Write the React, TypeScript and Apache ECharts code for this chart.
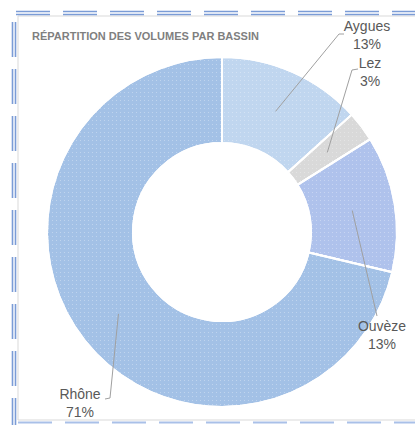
import React, { useEffect, useRef } from "react";
import * as echarts from "echarts";

// ---- data ----
const categories = ["Aygues", "Lez", "Ouvèze", "Rhône"];
const volumes = [13.3, 2.8, 12.6, 71.3];
const sliceColors = ["#c0d6ef", "#d9d9d9", "#afc2ec", "#a3c1e6"];
const titleText = "RÉPARTITION DES VOLUMES PAR BASSIN";

// ---- layout (positions of labels & frame only) ----
const CENTER = [222, 232];
const RADII = [89, 175];
const labelAnchors = [
  [367, 35],
  [370, 72],
  [382, 335],
  [80, 403],
];
const labelLineEnds = [
  [[339, 34], [344, 34]],
  [[352, 70], [358, 69]],
  [[377, 316]],
  [[110, 398], [105, 399]],
];

export default function App() {
  const ref = useRef<HTMLDivElement>(null);
  useEffect(() => {
    if (!ref.current) return;
    const chart = echarts.init(ref.current, null, { renderer: "svg" });
    const total = volumes.reduce((a, b) => a + b, 0);
    const mids: number[] = [];
    let cum = 0;
    volumes.forEach((v) => {
      mids.push(((cum + v / 2) / total) * Math.PI * 2);
      cum += v;
    });
    const rMid = (RADII[0] + RADII[1]) / 2;
    const midPoint = (i: number) => [
      CENTER[0] + Math.sin(mids[i]) * rMid,
      CENTER[1] - Math.cos(mids[i]) * rMid,
    ];

    const frameColor = "#7b9cd6";
    const graphics: any[] = [
      {
        type: "rect",
        shape: { x: 18, y: 16, width: 420, height: 404 },
        style: { fill: "none", stroke: "#d9d9d9", lineWidth: 1 },
        silent: true,
      },
    ];
    const dash = [34, 13];
    [11.5, 14.5].forEach((y) =>
      graphics.push({
        type: "line",
        shape: { x1: 16, y1: y, x2: 415, y2: y },
        style: { stroke: frameColor, lineWidth: 1.6, lineDash: dash },
        silent: true,
      })
    );
    [12.5, 15.5].forEach((x) =>
      graphics.push({
        type: "line",
        shape: { x1: x, y1: 22, x2: x, y2: 425 },
        style: { stroke: frameColor, lineWidth: 1.6, lineDash: [35, 12] },
        silent: true,
      })
    );
    graphics.push({
      type: "line",
      shape: { x1: 18, y1: 422.5, x2: 415, y2: 422.5 },
      style: { stroke: "#a9c0e8", lineWidth: 2, lineDash: dash },
      silent: true,
    });
    graphics.push({
      type: "text",
      left: 32,
      top: 30,
      style: {
        text: titleText,
        fill: "#7f7f7f",
        font: "bold 11px 'Liberation Sans', Arial, sans-serif",
      },
    });
    // leader lines from the middle of each slice to its label
    categories.forEach((_, i) => {
      graphics.push({
        type: "polyline",
        z: 100,
        silent: true,
        shape: { points: [midPoint(i), ...labelLineEnds[i]] },
        style: { stroke: "#a0a0a0", lineWidth: 1, fill: "none" },
      });
    });

    chart.setOption({
      animation: false,
      backgroundColor: "#ffffff",
      graphic: graphics,
      series: [
        {
          type: "pie",
          center: CENTER,
          radius: RADII,
          startAngle: 90,
          clockwise: true,
          avoidLabelOverlap: false,
          data: categories.map((c, i) => ({
            name: c,
            value: volumes[i],
            itemStyle: { color: sliceColors[i] },
          })),
          itemStyle: {
            borderColor: "#ffffff",
            borderWidth: 2,
            decal: {
              symbol: "rect",
              symbolSize: 1,
              dashArrayX: [1, 3],
              dashArrayY: [1, 3],
              color: "rgba(255,255,255,0.3)",
            },
          },
          label: {
            show: true,
            position: "outside",
            formatter: (p: any) => `${p.name}\n${Math.round(p.percent)}%`,
            color: "#595959",
            fontFamily: "'Liberation Sans', Arial, sans-serif",
            fontSize: 14,
            lineHeight: 18,
            align: "center",
          },
          labelLine: { show: false },
          labelLayout: (params: any) => {
            const i = params.dataIndex;
            return {
              x: labelAnchors[i][0],
              y: labelAnchors[i][1],
              align: "center",
              verticalAlign: "middle",
            };
          },
          emphasis: { disabled: true },
        },
      ],
    });
    return () => chart.dispose();
  }, []);
  return (
    <div
      ref={ref}
      style={{ position: "fixed", left: 0, top: 0, width: 415, height: 425 }}
    />
  );
}
